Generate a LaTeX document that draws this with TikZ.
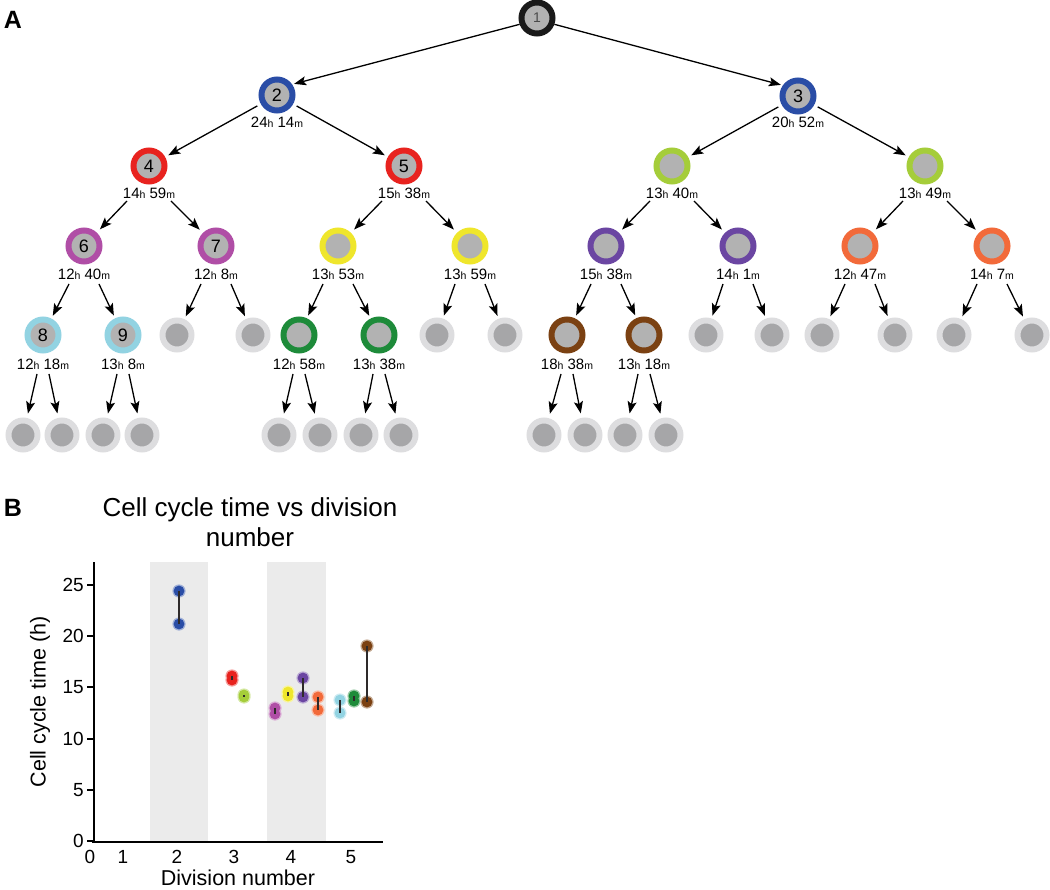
\documentclass[tikz,border=0pt]{standalone}
\usepackage{fontspec}
\setmainfont{Liberation Sans}
\usetikzlibrary{arrows.meta,calc}
\definecolor{cK}{HTML}{1A1A1A}
\definecolor{cBlue}{HTML}{2A4DA6}
\definecolor{cRed}{HTML}{E8231F}
\definecolor{cLime}{HTML}{A5CD3A}
\definecolor{cMag}{HTML}{B04EA6}
\definecolor{cYel}{HTML}{EFE62C}
\definecolor{cPur}{HTML}{6B46A2}
\definecolor{cOra}{HTML}{F26A3A}
\definecolor{cLbl}{HTML}{92D3E2}
\definecolor{cGrn}{HTML}{1E8B3A}
\definecolor{cBrn}{HTML}{7B4112}
\definecolor{cellin}{HTML}{B2B2B2}
\definecolor{idlering}{HTML}{DDDDDF}
\definecolor{idlein}{HTML}{A6A6A8}
\definecolor{numgrey}{HTML}{4A4A4A}
\definecolor{band}{HTML}{EBEBEB}
\definecolor{pairln}{HTML}{2E2A2A}
\newcommand\cyctime[2]{#1{\fontsize{10.5}{10.5}\selectfont h} #2{\fontsize{10.5}{10.5}\selectfont m}}
\newcommand\pairdot[4]{%
  \fill[#1!45!white] (#2,#3) circle (6.6) (#2,#4) circle (6.6);
  \fill[#1] (#2,#3) circle (5.4) (#2,#4) circle (5.4);
  \draw[pairln,line width=2pt] (#2,#3) -- (#2,#4);}
\begin{document}
\begin{tikzpicture}[x=1pt,y=-1pt,
  cell/.style={circle,draw=#1,line width=6pt,fill=cellin,minimum size=31pt,inner sep=0pt,font=\fontsize{18}{18}\selectfont},
  idle/.style={circle,draw=idlering,line width=6pt,fill=idlein,minimum size=29pt,inner sep=0pt},
  tlab/.style={font=\fontsize{15}{15}\selectfont,inner sep=0pt},
  arr/.style={line width=1.3pt,-{Stealth[length=12pt,width=9pt,inset=2.5pt]}},
  a0/.style={arr,shorten >=2pt},
  a1/.style={arr,shorten <=4pt,shorten >=3.5pt},
  a2/.style={arr,shorten >=4.5pt},
  a3/.style={arr,shorten >=3pt},
  a4/.style={arr,shorten >=4.5pt},
  tick/.style={font=\fontsize{19}{19}\selectfont,inner sep=0pt},
  panel/.style={font=\fontsize{25}{25}\selectfont\bfseries,inner sep=0pt}
]
\useasboundingbox (0,0) rectangle (1050,890);

% ---------------- Panel A ----------------
\node[panel] (pA) at (13,20) {A};

% level 0
\node[cell=cK] (n1) at (537,18) {\fontsize{14}{14}\selectfont\color{numgrey}1};
\coordinate (stem) at (537,0);
\draw[cK,line width=2.5pt] (stem) -- (n1);

% level 1
\node[cell=cBlue] (n2) at (277,95) {2};
\node[cell=cBlue] (n3) at (798,96) {3};
\node[tlab] (l2) at (277,122) {\cyctime{24}{14}};
\node[tlab] (l3) at (798,122) {\cyctime{20}{52}};

% level 2
\node[cell=cRed] (n4) at (149,166) {4};
\node[cell=cRed] (n5) at (404,166) {5};
\node[cell=cLime] (g1) at (672,166) {};
\node[cell=cLime] (g2) at (925,166) {};
\node[tlab] (l4) at (149,193) {\cyctime{14}{59}};
\node[tlab] (l5) at (404,193) {\cyctime{15}{38}};
\node[tlab] (lg1) at (672,193) {\cyctime{13}{40}};
\node[tlab] (lg2) at (925,193) {\cyctime{13}{49}};

% level 3
\node[cell=cMag] (n6) at (84,246) {6};
\node[cell=cMag] (n7) at (216,246) {7};
\node[cell=cYel] (y1) at (338,246) {};
\node[cell=cYel] (y2) at (470,246) {};
\node[cell=cPur] (p1) at (606,246) {};
\node[cell=cPur] (p2) at (738,246) {};
\node[cell=cOra] (o1) at (860,246) {};
\node[cell=cOra] (o2) at (992,246) {};
\node[tlab] (l6) at (84,274) {\cyctime{12}{40}};
\node[tlab] (l7) at (216,274) {\cyctime{12}{8}};
\node[tlab] (ly1) at (338,274) {\cyctime{13}{53}};
\node[tlab] (ly2) at (470,274) {\cyctime{13}{59}};
\node[tlab] (lp1) at (606,274) {\cyctime{15}{38}};
\node[tlab] (lp2) at (738,274) {\cyctime{14}{1}};
\node[tlab] (lo1) at (860,274) {\cyctime{12}{47}};
\node[tlab] (lo2) at (992,274) {\cyctime{14}{7}};

% level 4
\node[cell=cLbl] (n8) at (43,335) {8};
\node[cell=cLbl] (n9) at (123,335) {9};
\node[idle] (i7a) at (177,335) {};
\node[idle] (i7b) at (253,335) {};
\node[cell=cGrn] (gr1) at (299,335) {};
\node[cell=cGrn] (gr2) at (379,335) {};
\node[idle] (iy2a) at (437,335) {};
\node[idle] (iy2b) at (505,335) {};
\node[cell=cBrn] (br1) at (567,335) {};
\node[cell=cBrn] (br2) at (644,335) {};
\node[idle] (ip2a) at (706,335) {};
\node[idle] (ip2b) at (772,335) {};
\node[idle] (io1a) at (822,335) {};
\node[idle] (io1b) at (895,335) {};
\node[idle] (io2a) at (954,335) {};
\node[idle] (io2b) at (1032,335) {};
\node[tlab] (l8) at (43,364) {\cyctime{12}{18}};
\node[tlab] (l9) at (123,364) {\cyctime{13}{8}};
\node[tlab] (lgr1) at (299,364) {\cyctime{12}{58}};
\node[tlab] (lgr2) at (379,364) {\cyctime{13}{38}};
\node[tlab] (lbr1) at (567,364) {\cyctime{18}{38}};
\node[tlab] (lbr2) at (644,364) {\cyctime{13}{18}};

% level 5
\foreach \nm/\xx in {q1/23,q2/62,q3/103,q4/142,q5/279,q6/320,q7/361,q8/401,q9/544,q10/585,q11/625,q12/666}
  \node[idle] (\nm) at (\xx,435) {};

% arrows
\draw[a0] (n1.200) -- (n2.35);
\draw[a0] (n1.340) -- (n3.145);
\draw[a1] (n2) -- (n4);
\draw[a1] (n2) -- (n5);
\draw[a1] (n3) -- (g1);
\draw[a1] (n3) -- (g2);
\foreach \p/\c/\d in {l4/n6/-1,l4/n7/1,l5/y1/-1,l5/y2/1,lg1/p1/-1,lg1/p2/1,lg2/o1/-1,lg2/o2/1}
  \draw[a2] ($(\p)+(\d*22,8)$) -- (\c);
\foreach \p/\c/\d in {l6/n8/-1,l6/n9/1,l7/i7a/-1,l7/i7b/1,ly1/gr1/-1,ly1/gr2/1,ly2/iy2a/-1,ly2/iy2b/1,lp1/br1/-1,lp1/br2/1,lp2/ip2a/-1,lp2/ip2b/1,lo1/io1a/-1,lo1/io1b/1,lo2/io2a/-1,lo2/io2b/1}
  \draw[a3] ($(\p)+(\d*15,10)$) -- (\c);
\foreach \p/\c/\d in {l8/q1/-1,l8/q2/1,l9/q3/-1,l9/q4/1,lgr1/q5/-1,lgr1/q6/1,lgr2/q7/-1,lgr2/q8/1,lbr1/q9/-1,lbr1/q10/1,lbr2/q11/-1,lbr2/q12/1}
  \draw[a4] ($(\p)+(\d*6,10)$) -- (\c);

% ---------------- Panel B ----------------
\node[panel] (pB) at (13,508) {B};
\node[font=\fontsize{26}{30}\selectfont,align=center,inner sep=0pt] (ttl) at (250,522) {Cell cycle time vs division\\number};

\fill[band] (150,562) rectangle (208,841);
\fill[band] (267,562) rectangle (326,841);

\draw[line width=2.5pt] (94,562) -- (94,843);
\draw[line width=2.5pt] (92,842) -- (383,842);
\foreach \v in {0,5,10,15,20,25}{
  \draw[line width=2pt] (87,{841-10.24*\v}) -- (94,{841-10.24*\v});
  \node[tick,anchor=east] (yt\v) at (84,{841-10.24*\v}) {\v};
}
\foreach \v/\xx in {0/90,1/123,2/177,3/234,4/291,5/351}
  \node[tick] (xt\v) at (\xx,857) {\v};

\node[rotate=90,font=\fontsize{21.5}{22}\selectfont,inner sep=0pt] (ylab) at (40,702) {Cell cycle time (h)};
\node[font=\fontsize{21.5}{22}\selectfont,inner sep=0pt] (xlab) at (238,878) {Division number};

\pairdot{cBlue}{179}{591}{624}
\pairdot{cRed}{232}{676}{680}
\pairdot{cLime}{244}{695}{697}
\pairdot{cMag}{275}{708}{714}
\pairdot{cYel}{288}{692}{696}
\pairdot{cPur}{303}{678}{697}
\pairdot{cOra}{318}{697}{710}
\pairdot{cLbl}{340}{700}{713}
\pairdot{cGrn}{354}{696}{701}
\pairdot{cBrn}{367}{646}{702}
\end{tikzpicture}
\end{document}
